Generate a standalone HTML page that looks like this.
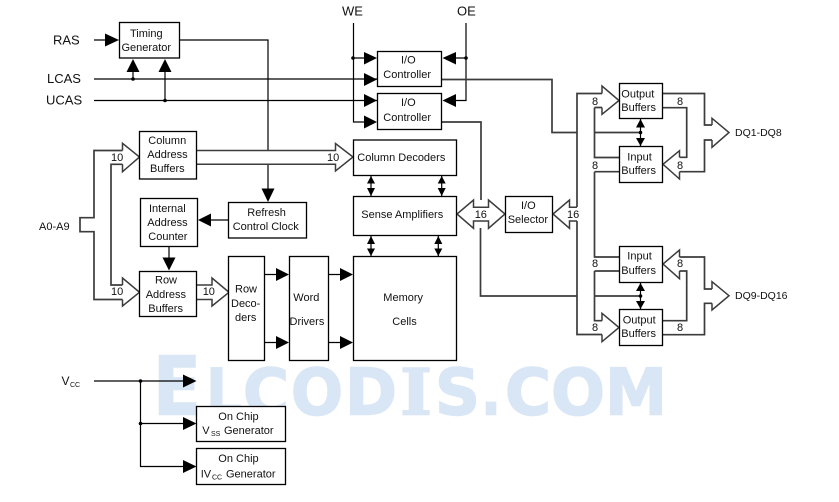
<!DOCTYPE html>
<html><head><meta charset="utf-8"><style>
html,body{margin:0;padding:0;background:#fff;width:839px;height:502px;overflow:hidden}
svg{display:block}
text{font-family:"Liberation Sans",Arial,sans-serif;font-size:11px;fill:#111}
.b{fill:#fff;stroke:#000;stroke-width:1.3}
.l{fill:none;stroke:#000;stroke-width:1.2}
.g{fill:none;stroke:#3c3c3c;stroke-width:1.7}
.h{fill:#fff;stroke:#3c3c3c;stroke-width:1.5;stroke-linejoin:miter}
.a{fill:#000}
text.big{font-size:13px}
text.wm{font-family:"DejaVu Sans",sans-serif;font-weight:bold;fill:#d9e6f5;stroke:#d9e6f5;stroke-width:1.5;font-size:64px}
.m{text-anchor:middle}
</style></head><body>
<svg width="839" height="502" viewBox="0 0 839 502" xmlns="http://www.w3.org/2000/svg">
<g lengthAdjust="spacingAndGlyphs">
<text class="wm" x="153" y="414.500" style="font-size:81px" textLength="48" lengthAdjust="spacingAndGlyphs">E</text>
<text class="wm" x="206" y="414.500" textLength="36" lengthAdjust="spacingAndGlyphs">L</text>
<text class="wm" x="243" y="414.500" textLength="46" lengthAdjust="spacingAndGlyphs">C</text>
<text class="wm" x="291" y="414.500" textLength="52" lengthAdjust="spacingAndGlyphs">O</text>
<text class="wm" x="345" y="414.500" textLength="52" lengthAdjust="spacingAndGlyphs">D</text>
<text class="wm" x="400" y="414.500" style="font-family:'DejaVu Serif',serif" textLength="32" lengthAdjust="spacingAndGlyphs">I</text>
<text class="wm" x="435" y="414.500" textLength="45" lengthAdjust="spacingAndGlyphs">S</text>
<text class="wm" x="481" y="414.500" textLength="20" lengthAdjust="spacingAndGlyphs">.</text>
<text class="wm" x="505" y="414.500" textLength="46" lengthAdjust="spacingAndGlyphs">C</text>
<text class="wm" x="551" y="414.500" textLength="54" lengthAdjust="spacingAndGlyphs">O</text>
<text class="wm" x="605" y="414.500" textLength="62" lengthAdjust="spacingAndGlyphs">M</text>
</g>

<!-- thin wires -->
<path class="l" d="M94 40H108M94 79H377M94 100.500H377M133 70V79M165 70V100.500M180 40H268V190M228 220H209M169 247V259M353.500 23V122H366M353.500 58H366M466 23V100.500H454M466 58H454M264.500 274.500H278M264.500 342.500H278M328.500 274.500H341M328.500 342.500H341M94 381H185M140.500 381V466.500H185M140.500 423.500H185"/>
<!-- gray wires -->
<path class="g" d="M442 79.500H552V132.500H577M442 122H481V200M480.500 228V296H577M577 207V93.500H602M577 221V334.500H602M594.500 107.500H602M594.500 107.500V157.500H619M594.500 132.500H640M594.500 171.700H619M594.500 171.700V257H619M594.500 271H619M594.500 271V320.700H602M594.500 296H640M663 93.500H704.500V125H712M712 140H704.500V171.700H679M679 157.300H686.700V107.700H663M679 257H704.500V289H712M712 303.300H704.500V334.700H663M679 271H686.700V320.700H663"/>

<!-- address bus -->
<path class="g" d="M123 150.500H94V217.700H80V231.700H94V299.500H123M123 164.300H111V285H123"/>

<!-- big hollow heads -->
<path class="h" d="M122.500 150.500V143.300L139.500 157 122.500 171.700V164.300"/>
<path class="h" d="M122.500 285V278L139.500 292.300 122.500 306V299.500"/>
<path class="h" d="M196.500 285H212V278L229 292.300 212 306V299.500H196.500"/>
<path class="h" d="M196.500 150.500H335.500V143.500L353 157 335.500 171V164.300H196.500"/>
<path class="h" d="M473.500 207.300V200L457 214 473.500 228.300V221H488.500V228.300L505 214 488.500 200V207.300Z"/>
<path class="h" d="M577 207.300H569.500V200L553 214 569.500 228.300V221H577"/>
<path class="h" d="M602 93.500V86L619 100.500 602 114.300V107.500"/>
<path class="h" d="M602 320.700V313.300L619 327.500 602 341.700V334.500"/>
<path class="h" d="M679.500 157.300V150.700L663 164.300 679.500 179V171.700"/>
<path class="h" d="M679.500 257V250L663 264 679.500 278.700V271"/>
<path class="h" d="M712 125V118.300L729 132.500 712 147.300V140"/>
<path class="h" d="M712 289V281.700L729 295.700 712 310V303.300"/>

<!-- boxes -->
<rect class="b" x="119.500" y="22.500" width="60" height="35.500"/>
<rect class="b" x="139.500" y="131.500" width="57" height="47.500"/>
<rect class="b" x="140.500" y="198.500" width="57" height="48"/>
<rect class="b" x="139.500" y="271.500" width="57" height="45"/>
<rect class="b" x="228.500" y="202.500" width="78" height="35.500"/>
<rect class="b" x="228.500" y="256.500" width="36" height="104"/>
<rect class="b" x="289.500" y="256.500" width="39" height="104"/>
<rect class="b" x="353.500" y="256.500" width="103" height="104"/>
<rect class="b" x="353.500" y="196.500" width="103" height="39"/>
<rect class="b" x="353.500" y="140" width="103" height="35.500"/>
<rect class="b" x="377.500" y="51.500" width="64" height="35"/>
<rect class="b" x="377.500" y="93.500" width="64" height="36"/>
<rect class="b" x="505.500" y="196.500" width="47" height="36"/>
<rect class="b" x="619.500" y="83.500" width="43" height="35"/>
<rect class="b" x="619.500" y="146.500" width="43" height="36"/>
<rect class="b" x="619.500" y="246.500" width="43" height="36"/>
<rect class="b" x="619.500" y="309.500" width="43" height="36"/>
<rect class="b" x="196.500" y="406.500" width="89" height="35"/>
<rect class="b" x="196.500" y="448.500" width="89" height="36"/>

<!-- solid arrowheads -->
<g class="a">
<path d="M105 33.500L119 40 105 46.500Z"/>
<path d="M126.500 72L133 59 139.500 72Z"/>
<path d="M158.500 72L165 59 171.500 72Z"/>
<path d="M261.500 188.500H274.500L268 202Z"/>
<path d="M211 213.500V226.500L198 220Z"/>
<path d="M162.500 257.500H175.500L169 270.500Z"/>
<path d="M364 52L377 58 364 64.500Z"/>
<path d="M364 73L377 79.500 364 86Z"/>
<path d="M364 94L377 100.500 364 107Z"/>
<path d="M364 115.500L377 122 364 128.500Z"/>
<path d="M456 52V64.500L442.500 58Z"/>
<path d="M456 94V107L442.500 100.500Z"/>
<path d="M276 268L289 274.500 276 281Z"/>
<path d="M276 336L289 342.500 276 349Z"/>
<path d="M340 268L353 274.500 340 281Z"/>
<path d="M340 336L353 342.500 340 349Z"/>
<path d="M183 374.500L196.500 381 183 387.500Z"/>
<path d="M183 417L196.500 423.500 183 430Z"/>
<path d="M183 460L196.500 466.500 183 473Z"/>
<!-- double arrows -->
<path d="M367 183.500L371 176 375 183.500ZM367 188L371 196 375 188Z"/>
<path d="M437.700 183.500L441.700 176 445.700 183.500ZM437.700 188L441.700 196 445.700 188Z"/>
<path d="M367 244L371 236 375 244ZM367 248.500L371 256 375 248.500Z"/>
<path d="M434.300 244L438.300 236 442.300 244ZM434.300 248.500L438.300 256 442.300 248.500Z"/>
<path d="M636 127.500L640.500 119 645 127.500ZM636 138L640.500 146 645 138Z"/>
<path d="M636 291L640.500 283 645 291ZM636 301L640.500 309 645 301Z"/>
<circle cx="133" cy="79" r="1.800"/><circle cx="165" cy="100.500" r="1.800"/>
<circle cx="353" cy="58" r="1.800"/><circle cx="466" cy="58" r="1.800"/>
<circle cx="640.500" cy="132.500" r="1.800"/><circle cx="640.500" cy="296" r="1.800"/>
<circle cx="140.500" cy="381" r="1.800"/><circle cx="140.500" cy="423.500" r="1.800"/>
</g>
<path class="l" d="M371 176V196M441.700 176V196M371 236V256M438.300 236V256M640.500 119V146M640.500 283V309"/>

<!-- labels -->
<text class="big" x="53" y="44.500">RAS</text>
<text class="big" x="47" y="83">LCAS</text>
<text class="big" x="46" y="104.500">UCAS</text>
<text class="big" x="342" y="15.500">WE</text>
<text class="big" x="457" y="15.500">OE</text>
<text x="130" y="37">Timing</text>
<text x="121.500" y="51">Generator</text>
<text x="401" y="63.500">I/O</text>
<text x="383.300" y="78">Controller</text>
<text x="401" y="106">I/O</text>
<text x="383.300" y="121">Controller</text>
<text x="357.300" y="161">Column Decoders</text>
<text x="148.300" y="144">Column</text>
<text x="147.300" y="158">Address</text>
<text x="150" y="172">Buffers</text>
<text x="149" y="212">Internal</text>
<text x="147.300" y="226">Address</text>
<text x="148.300" y="240">Counter</text>
<text x="247.300" y="216">Refresh</text>
<text x="232.700" y="230">Control Clock</text>
<text x="155" y="283.500">Row</text>
<text x="145.700" y="298">Address</text>
<text x="148.300" y="312">Buffers</text>
<text x="39" y="230">A0-A9</text>
<text x="111" y="161">10</text>
<text x="111" y="295">10</text>
<text x="202.700" y="295">10</text>
<text x="327" y="161">10</text>
<text x="235" y="292.500">Row</text>
<text x="231" y="307">Deco-</text>
<text x="235" y="321">ders</text>
<text x="293.300" y="301">Word</text>
<text x="289.500" y="325">Drivers</text>
<text x="383.300" y="301">Memory</text>
<text x="392.300" y="325">Cells</text>
<text x="361.300" y="218">Sense Amplifiers</text>
<text x="474.700" y="218">16</text>
<text x="567" y="218">16</text>
<text x="521" y="209">I/O</text>
<text x="507.700" y="223">Selector</text>
<text x="621.300" y="97.500">Output</text>
<text x="621.300" y="111">Buffers</text>
<text x="627.300" y="160.500">Input</text>
<text x="621.300" y="174">Buffers</text>
<text x="627.300" y="259.500">Input</text>
<text x="621.300" y="274">Buffers</text>
<text x="622.700" y="323.500">Output</text>
<text x="621.300" y="337">Buffers</text>
<text class="m" x="595" y="105">8</text>
<text class="m" x="680" y="105">8</text>
<text class="m" x="595" y="169">8</text>
<text class="m" x="680" y="169">8</text>
<text class="m" x="595" y="267">8</text>
<text class="m" x="680" y="267">8</text>
<text class="m" x="595" y="331">8</text>
<text class="m" x="680" y="331">8</text>
<text x="735" y="136" style="font-size:10.500px">DQ1-DQ8</text>
<text x="735" y="299" style="font-size:10.500px">DQ9-DQ16</text>
<text x="61.500" y="385" style="font-size:12px">V</text>
<text x="70" y="387" style="font-size:7px">CC</text>
<text x="218.300" y="420">On Chip</text>
<text x="202.300" y="434">V</text>
<text x="211" y="436" style="font-size:7px">SS</text>
<text x="224" y="434">Generator</text>
<text x="218.300" y="462">On Chip</text>
<text x="200.700" y="477.500">IV</text>
<text x="212" y="479.500" style="font-size:7px">CC</text>
<text x="226" y="477.500">Generator</text>
</svg>
</body></html>
